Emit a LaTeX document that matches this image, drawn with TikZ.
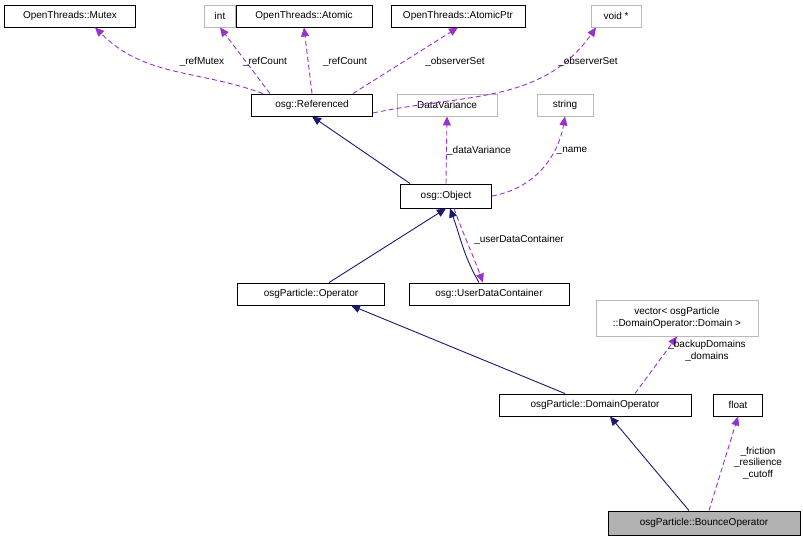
\documentclass[tikz,border=0pt]{standalone}
\usepackage{fontspec}
\setmainfont{Liberation Sans}
\usetikzlibrary{arrows.meta}
\begin{document}
\begin{tikzpicture}[x=1pt,y=-1pt,
 box/.style={draw=black,line width=0.9pt,rectangle,inner sep=0pt,minimum height=22pt,font=\fontsize{10}{11.5}\selectfont},
 gbox/.style={box,draw=gray!55},
 inh/.style={line width=0.9pt,draw={rgb,255:red,25;green,25;blue,112},-{Triangle[length=9pt,width=8pt]}},
 use/.style={line width=0.9pt,draw={rgb,255:red,153;green,50;blue,204},dash pattern=on 5pt off 3pt,-{Triangle[length=9pt,width=8pt]}},
 lab/.style={font=\fontsize{10}{11.5}\selectfont,inner sep=1pt}]
\useasboundingbox (0,0) rectangle (803,543);
\node[box,minimum width=131pt] (mutex) at (70,16) {OpenThreads::Mutex};
\node[gbox,minimum width=31pt] (int) at (220,16) {int};
\node[box,minimum width=136pt] (atomic) at (304,16) {OpenThreads::Atomic};
\node[box,minimum width=134pt] (aptr) at (458,16) {OpenThreads::AtomicPtr};
\node[gbox,minimum width=50pt] (void) at (616,16) {void *};
\node[box,minimum width=121pt] (ref) at (312,105) {osg::Referenced};
\node[gbox,minimum width=100pt] (dv) at (447,105) {DataVariance};
\node[gbox,minimum width=56pt] (str) at (565,105) {string};
\node[box,minimum width=91pt,minimum height=24pt] (obj) at (446,196) {osg::Object};
\node[box,minimum width=147pt] (op) at (311,294) {osgParticle::Operator};
\node[box,minimum width=160pt] (udc) at (489,294) {osg::UserDataContainer};
\node[gbox,minimum width=162pt,minimum height=36pt,align=center] (vec) at (677,318) {vector< osgParticle\\::DomainOperator::Domain >};
\node[box,minimum width=192pt] (dop) at (595,405) {osgParticle::DomainOperator};
\node[box,minimum width=49pt] (flt) at (738,405) {float};
\node[box,fill=gray!60,minimum width=192pt,minimum height=24pt] (bop) at (704,523) {osgParticle::BounceOperator};

\draw[use] (ref.north west) ++(12,0) coordinate (r1) to[out=160,in=-45] ([xshift=25pt]mutex.south);
\node[lab] (l1) at (202,62) {\_refMutex};
\draw[use] (ref.north) ++(-42,0) coordinate (r2) -- (int.south);
\node[lab] (l2) at (265,62) {\_refCount};
\draw[use] (ref.north) -- (atomic.south);
\node[lab] (l3) at (345,62) {\_refCount};
\draw[use] (ref.north east) ++(-20,0) coordinate (r4) -- (aptr.south);
\node[lab] (l4) at (455,62) {\_observerSet};
\draw[use] ([yshift=-8pt]ref.east) to[out=12,in=-125] ([xshift=-20pt]void.south);
\node[lab] (l5) at (588,62) {\_observerSet};

\draw[inh] (obj.north west) ++(10,0) coordinate (o1) -- (ref.south);
\draw[use] (obj.north) -- (dv.south);
\node[lab] (l6) at (479,151) {\_dataVariance};
\draw[use] (obj.east) to[out=10,in=-100] (str.south);
\node[lab] (l7) at (572,151) {\_name};

\draw[inh] (op.north) ++(18,0) coordinate (p1) -- (obj.south);
\draw[inh] (udc.north) ++(-10,0) coordinate (u1) to[out=120,in=-70] ([xshift=4pt]obj.south);
\draw[use] ([xshift=8pt]obj.south) to[out=-70,in=110] ([xshift=-6pt]udc.north);
\node[lab] (l8) at (519,240) {\_userDataContainer};

\draw[inh] (dop.north) ++(-30,0) coordinate (d1) -- ([xshift=40pt]op.south);
\draw[use] (dop.north) ++(40,0) coordinate (d2) -- (vec.south);
\node[lab,align=center] (l9) at (707,351) {\_backupDomains\\\_domains};

\draw[inh] (bop.north) ++(-15,0) coordinate (b1) -- ([xshift=15pt]dop.south);
\draw[use] (bop.north) ++(5,0) coordinate (b2) -- (flt.south);
\node[lab,align=center] (l10) at (758,463) {\_friction\\\_resilience\\\_cutoff};
\end{tikzpicture}
\end{document}
